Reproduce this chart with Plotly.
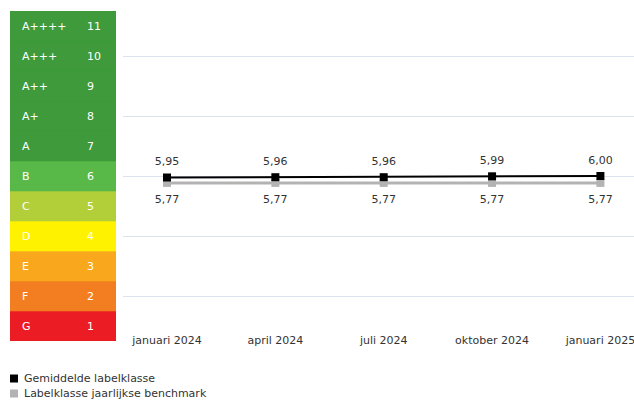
import plotly.graph_objects as go

# Data
periods = ["januari 2024", "april 2024", "juli 2024", "oktober 2024", "januari 2025"]
avg_class = [5.95, 5.96, 5.96, 5.99, 6.00]
benchmark = [5.77, 5.77, 5.77, 5.77, 5.77]

class_values = [1, 2, 3, 4, 5, 6, 7, 8, 9, 10, 11]
class_labels = ["G", "F", "E", "D", "C", "B", "A", "A+", "A++", "A+++", "A++++"]
class_colors = ["#ec1c24", "#f37e22", "#f9a81e", "#fff200", "#b2ce38", "#58b848",
                "#3e9a3a", "#3e9a3a", "#3e9a3a", "#3e9a3a", "#3e9a3a"]

series_names = ["Gemiddelde labelklasse", "Labelklasse jaarlijkse benchmark"]
series_colors = ["#000000", "#b3b3b3"]

FONT = "DejaVu Sans"
TXT = "#333333"
W, H = 634, 400
ML, MT, MB = 10, 11, 59
PW, PH = W - ML, H - MT - MB  # 624 x 330
GAP = 9  # px between band bottom and line-plot bottom

fig = go.Figure()

# Energy label bands
fig.add_trace(go.Bar(
    y=class_values, x=[106] * len(class_values), orientation="h",
    marker=dict(color=class_colors, line=dict(width=0.6, color=class_colors)), width=1,
    xaxis="x2", yaxis="y2", showlegend=False, hoverinfo="skip",
))
for v, lab in zip(class_values, class_labels):
    fig.add_annotation(x=10, y=v, xref="x2", yref="y2", text=lab, showarrow=False,
                       xanchor="left", yanchor="middle",
                       font=dict(family=FONT, size=11, color="white"))
    fig.add_annotation(x=75, y=v, xref="x2", yref="y2", text=str(v), showarrow=False,
                       xanchor="left", yanchor="middle",
                       font=dict(family=FONT, size=11, color="white"))

# Benchmark line
fig.add_trace(go.Scatter(
    x=periods, y=benchmark, mode="lines+markers",
    line=dict(color=series_colors[1], width=3),
    marker=dict(symbol="square", size=8, color=series_colors[1]),
    showlegend=False, name=series_names[1],
))
# Average line
fig.add_trace(go.Scatter(
    x=periods, y=avg_class, mode="lines+markers",
    line=dict(color=series_colors[0], width=2),
    marker=dict(symbol="square", size=8, color=series_colors[0]),
    showlegend=False, name=series_names[0],
))
# Data labels
fig.add_trace(go.Scatter(
    x=periods, y=avg_class, mode="markers+text",
    marker=dict(size=14, color="rgba(0,0,0,0)"),
    texttemplate="%{y:.2f}", textposition="top center",
    textfont=dict(family=FONT, size=11, color=TXT),
    showlegend=False, hoverinfo="skip",
))
fig.add_trace(go.Scatter(
    x=periods, y=benchmark, mode="markers+text",
    marker=dict(size=18, color="rgba(0,0,0,0)"),
    texttemplate="%{y:.2f}", textposition="bottom center",
    textfont=dict(family=FONT, size=11, color=TXT),
    showlegend=False, hoverinfo="skip",
))

# Manual legend
legend_centers_px = [378.5, 393.5]
for name, col, cy in zip(series_names, series_colors, legend_centers_px):
    yc = (MT + PH - cy) / PH
    fig.add_shape(type="rect", xref="paper", yref="paper",
                  x0=0, x1=8 / PW, y0=yc - 4 / PH, y1=yc + 4 / PH,
                  fillcolor=col, line=dict(width=0))
    fig.add_annotation(x=12 / PW, y=yc, xref="paper", yref="paper", text=name,
                       showarrow=False, xanchor="left", yanchor="middle",
                       font=dict(family=FONT, size=11, color=TXT))

fig.update_layout(
    width=W, height=H,
    margin=dict(l=ML, r=0, t=MT, b=MB, autoexpand=False),
    paper_bgcolor="white", plot_bgcolor="white",
    separators=",.",
    showlegend=False,
    font=dict(family=FONT, size=11, color=TXT),
    xaxis=dict(domain=[113 / PW, 1], type="category", range=[-0.406, 4.31],
               showgrid=False, zeroline=False, showline=False, ticks="",
               tickfont=dict(family=FONT, size=11, color=TXT), anchor="y"),
    yaxis=dict(domain=[GAP / PH, 1], range=[0.5 + GAP / 30, 11.5],
               tickvals=[2, 4, 6, 8, 10], showticklabels=False,
               gridcolor="#dce3ef", gridwidth=1, zeroline=False, showline=False, anchor="x"),
    xaxis2=dict(domain=[0, 106 / PW], range=[0, 106], visible=False, anchor="y2"),
    yaxis2=dict(domain=[0, 1], range=[0.5, 11.5], visible=False, anchor="x2"),
)

fig.write_html("out.html")
